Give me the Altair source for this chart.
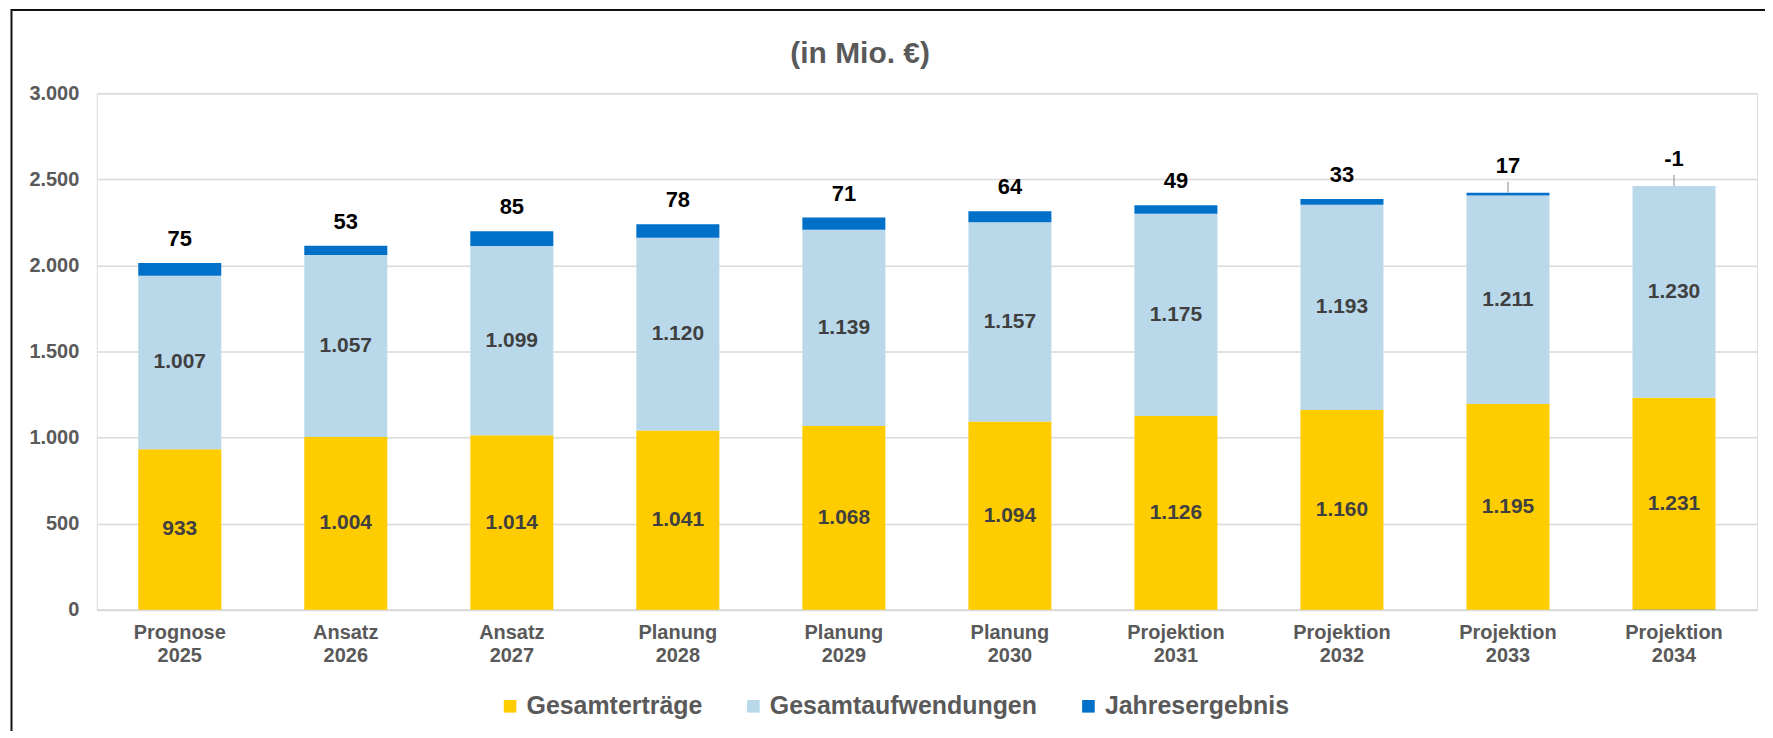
import altair as alt
import pandas as pd

categories = ["Prognose 2025", "Ansatz 2026", "Ansatz 2027", "Planung 2028", "Planung 2029",
              "Planung 2030", "Projektion 2031", "Projektion 2032", "Projektion 2033", "Projektion 2034"]
ertraege = [933, 1004, 1014, 1041, 1068, 1094, 1126, 1160, 1195, 1231]
aufwendungen = [1007, 1057, 1099, 1120, 1139, 1157, 1175, 1193, 1211, 1230]
ergebnis = [75, 53, 85, 78, 71, 64, 49, 33, 17, -1]
series = ["Gesamterträge", "Gesamtaufwendungen", "Jahresergebnis"]
colors = ["#FFCC00", "#B9D9EB", "#0070C9"]
y_ticks = [0, 500, 1000, 1500, 2000, 2500, 3000]
title_text = "(in Mio. €)"

FONT = "Liberation Sans"
GRAY = "#595959"


def de(v):
    return f"{v:,}".replace(",", ".")


rows = []
for i, c in enumerate(categories):
    for j, vals in enumerate([ertraege, aufwendungen, ergebnis]):
        rows.append({"cat": c, "series": series[j], "value": vals[i], "order": j})
bars_df = pd.DataFrame(rows)

inner_df = pd.DataFrame({
    "cat": categories * 2,
    "mid": [e / 2 for e in ertraege] + [e + a / 2 for e, a in zip(ertraege, aufwendungen)],
    "label": [de(v) for v in ertraege] + [de(v) for v in aufwendungen],
})

top_df = pd.DataFrame({
    "cat": categories,
    "top": [e + a + max(r, 0) for e, a, r in zip(ertraege, aufwendungen, ergebnis)],
    "erg": ergebnis,
    "label": [de(r) for r in ergebnis],
})

xscale = alt.Scale(paddingInner=0.5, paddingOuter=0.25)
yscale = alt.Scale(domain=[0, 3000], nice=False)

x_axis = alt.Axis(
    title=None, labelExpr="split(datum.label, ' ')", labelFont=FONT, labelFontSize=20,
    labelFontWeight="bold", labelColor=GRAY, labelLineHeight=23, labelPadding=13,
    ticks=False, tickSize=0, domain=True, domainColor="#D9D9D9", domainWidth=2,
    labelAngle=0, grid=False,
)
y_axis = alt.Axis(
    title=None, values=y_ticks, labelExpr="replace(format(datum.value, ','), ',', '.')",
    labelFont=FONT, labelFontSize=20, labelFontWeight="bold", labelColor=GRAY,
    labelPadding=18, ticks=False, tickSize=0, domain=False, grid=True,
    gridColor="#D9D9D9", gridWidth=1.5,
)

X = alt.X("cat:N", sort=categories, scale=xscale, axis=x_axis)

bars = alt.Chart(bars_df).mark_bar().encode(
    x=X,
    y=alt.Y("value:Q", stack="zero", scale=yscale, axis=y_axis),
    color=alt.Color(
        "series:N", sort=series,
        scale=alt.Scale(domain=series, range=colors),
        legend=alt.Legend(
            orient="none", legendX=402, legendY=602, direction="horizontal", title=None,
            symbolType="square", symbolSize=160, symbolStrokeWidth=0, symbolOpacity=1,
            labelFont=FONT, labelFontSize=25, labelFontWeight="bold", labelColor=GRAY,
            labelOffset=4, columnPadding=38, labelLimit=500,
        ),
    ),
    order=alt.Order("order:Q"),
)

inner = alt.Chart(inner_df).mark_text(
    font=FONT, fontSize=21, fontWeight="bold", color="#404040", baseline="middle"
).encode(
    x=X,
    y=alt.Y("mid:Q", scale=yscale),
    text="label:N",
)

top_big = alt.Chart(top_df).transform_filter("datum.erg >= 20").mark_text(
    font=FONT, fontSize=22, fontWeight="bold", color="#000000", baseline="middle", dy=-24
).encode(
    x=X,
    y=alt.Y("top:Q", scale=yscale),
    text="label:N",
)

top_small = alt.Chart(top_df).transform_filter("datum.erg < 20").mark_text(
    font=FONT, fontSize=22, fontWeight="bold", color="#000000", baseline="middle", dy=-27
).encode(
    x=X,
    y=alt.Y("top:Q", scale=yscale),
    text="label:N",
)

leader = alt.Chart(top_df).transform_filter("datum.erg < 20").mark_rule(
    color="#A6A6A6", strokeWidth=1.3, y2Offset=-11
).encode(
    x=X,
    y=alt.Y("top:Q", scale=yscale),
    y2="top:Q",
)

frame_df = pd.DataFrame({"k": [0]})
frame_top = alt.Chart(frame_df).mark_rule(color="#111111", strokeWidth=2).encode(
    x=alt.value(-86), x2=alt.value(1700), y=alt.value(-83.5)
)
frame_left = alt.Chart(frame_df).mark_rule(color="#111111", strokeWidth=2).encode(
    x=alt.value(-85.5), y=alt.value(-84.5), y2=alt.value(700)
)

chart = alt.layer(bars, inner, top_big, top_small, leader, frame_top, frame_left).properties(
    width=1665,
    height=518,
    title=alt.TitleParams(
        title_text, font=FONT, fontSize=30, fontWeight="bold", color=GRAY,
        anchor="middle", dx=-67, offset=-61,
    ),
    autosize=alt.AutoSizeParams(type="none"),
    padding={"left": 89, "top": 84.5, "right": 8, "bottom": 120},
).configure_view(stroke=None).configure(font=FONT)

chart.save("out.html", embed_options={"renderer": "svg", "actions": False})
